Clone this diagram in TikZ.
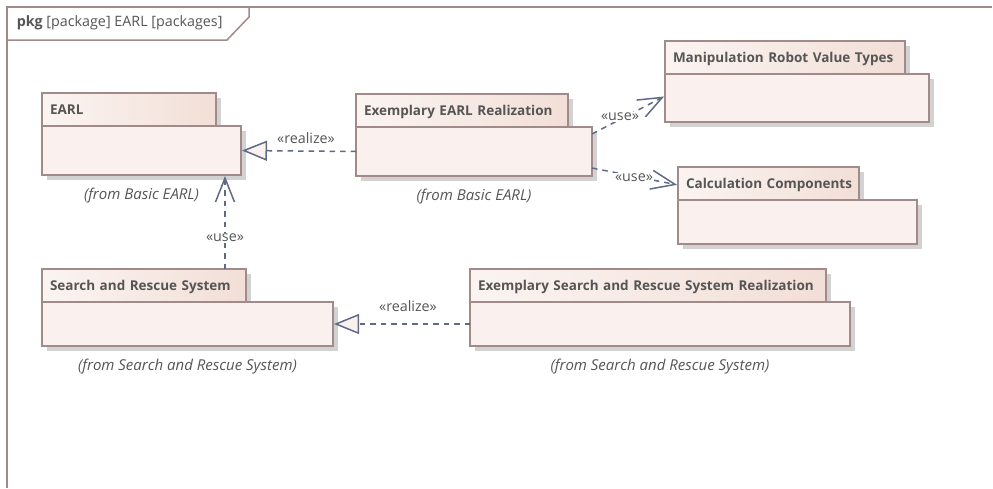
\documentclass[tikz,border=0pt]{standalone}
\usepackage{fontspec}
\setmainfont{Open Sans}
\usetikzlibrary{positioning,arrows.meta,shadows}
\definecolor{edgebrown}{HTML}{A08A8A}
\definecolor{linkblue}{HTML}{5F6A88}
\definecolor{textgrey}{HTML}{555555}
\definecolor{tableft}{HTML}{FBF4F1}
\definecolor{tabright}{HTML}{F2DFD7}
\definecolor{bodyfill}{HTML}{FAF1EE}
\definecolor{shadowgrey}{HTML}{D2D2D2}

\begin{document}
\begin{tikzpicture}[x=1pt,y=-1pt,line width=1.5pt,text=textgrey,font=\fontsize{14.3}{17}\selectfont,
                    node distance=9pt,shorten >=1pt,
                    pkgshadow/.style={drop shadow={shadow xshift=5pt,shadow yshift=-5pt,fill=shadowgrey,opacity=1}},
                    pkgtab/.style={draw=edgebrown,left color=tableft,right color=tabright,pkgshadow,anchor=south west,outer sep=0pt,
                                   minimum height=33pt,inner sep=0pt,align=left,font=\fontsize{13.5}{16}\selectfont\bfseries,text width=#1,
                                   text height=12pt,text depth=2pt,execute at begin node=\hspace*{8pt}},
                    pkgbody/.style n args={2}{draw=edgebrown,fill=bodyfill,pkgshadow,anchor=north west,outer sep=0pt,
                                   minimum width=#1,minimum height=#2,inner sep=0pt},
                    fromnote/.style={font=\fontsize{15}{18}\selectfont\itshape},
                    linklabel/.style={fill=white,inner sep=1pt},
                    uselink/.style={draw=linkblue,dash pattern=on 5.5pt off 5pt,-{Straight Barb[length=24pt,width=19pt,line width=1.5pt]}},
                    realizelink/.style={draw=linkblue,dash pattern=on 5.5pt off 5pt,-{Triangle[open,length=25pt,width=20pt,fill=bodyfill,line width=1.5pt]}}]

        \useasboundingbox (0,0) rectangle (993,488);

        % frame
        \draw[edgebrown,line width=2pt] (7,488) -- (7,7) -- (993,7);
        \draw[edgebrown] (7,40) -- (227,40) -- (249,17) -- (249,7);
        \node[anchor=west,inner sep=0pt] (framelabel) at (16,23) {\textbf{pkg} [package] EARL [packages]};

        % packages
        \node[pkgtab=174pt] (earltab) at (42,126) {EARL};
        \node[pkgbody={199pt}{49pt}] (earlbody) at (earltab.south west) {};
        \node[fromnote,below=of earlbody] (earlnote) {(from Basic EARL)};

        \node[pkgtab=212pt] (realtab) at (356,127) {Exemplary EARL Realization};
        \node[pkgbody={236pt}{49pt}] (realbody) at (realtab.south west) {};
        \node[fromnote,below=of realbody] (realnote) {(from Basic EARL)};

        \node[pkgtab=240pt] (robottab) at (665,74) {Manipulation Robot Value Types};
        \node[pkgbody={264pt}{48pt}] (robotbody) at (robottab.south west) {};

        \node[pkgtab=181pt] (calctab) at (678,200) {Calculation Components};
        \node[pkgbody={239pt}{44pt}] (calcbody) at (calctab.south west) {};

        \node[pkgtab=204pt] (searchtab) at (42,302) {Search and Rescue System};
        \node[pkgbody={291pt}{44pt}] (searchbody) at (searchtab.south west) {};
        \node[fromnote,below=of searchbody] (searchnote) {(from Search and Rescue System)};

        \node[pkgtab=356pt] (exsearchtab) at (470,302) {Exemplary Search and Rescue System Realization};
        \node[pkgbody={380pt}{44pt}] (exsearchbody) at (exsearchtab.south west) {};
        \node[fromnote,below=of exsearchbody] (exsearchnote) {(from Search and Rescue System)};

        % links
        \draw[realizelink] (realbody.west) -- (earlbody.east);
        \draw[realizelink] (exsearchbody.west) -- (searchbody.east);
        \draw[uselink] ([xshift=183pt]searchtab.north west) -- ([xshift=-16pt]earlbody.south east);
        \draw[uselink] ([yshift=-7pt]realbody.north east) -- ([yshift=2pt]robotbody.west);
        \draw[uselink] ([yshift=8pt]realbody.south east) -- ([yshift=15pt]calctab.south west);

        \node[linklabel] (realizetop) at (306,138) {«realize»};
        \node[linklabel] (realizelow) at (408,306) {«realize»};
        \node[linklabel] (usesearch) at (225,238) {«use»};
        \node[linklabel] (userobot) at (620,117) {«use»};
        \node[linklabel] (usecalc) at (634,178) {«use»};
\end{tikzpicture}
\end{document}
